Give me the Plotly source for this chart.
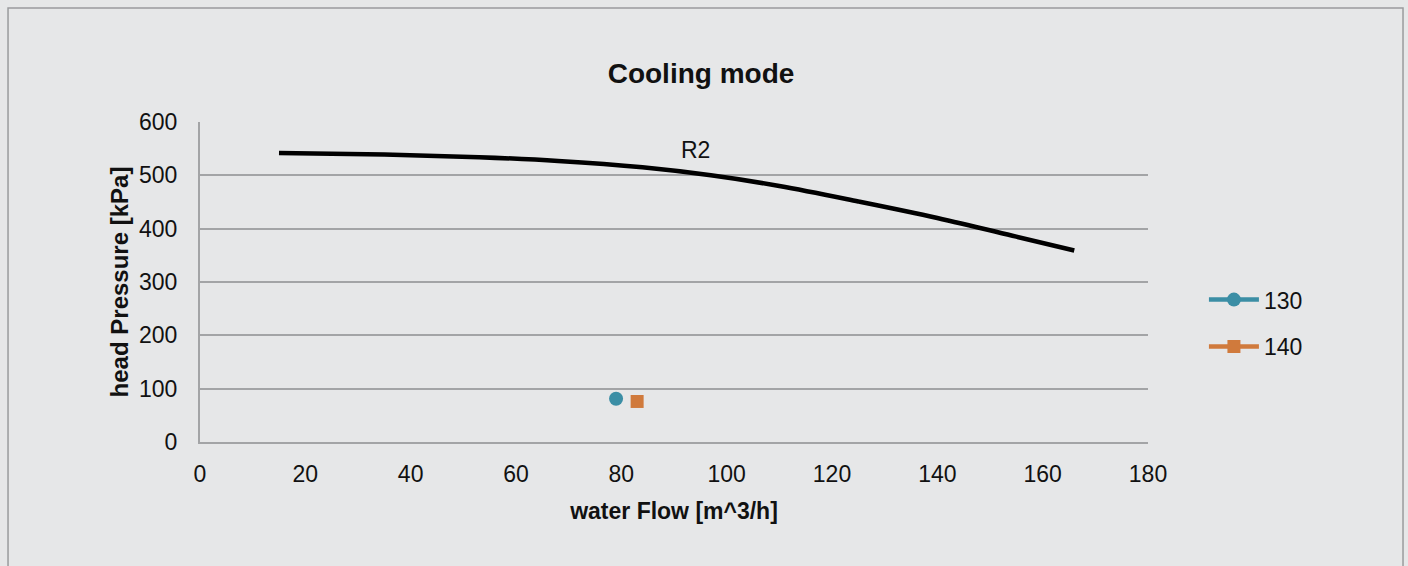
import plotly.graph_objects as go

# Pump curve R2: water flow [m^3/h] vs head pressure [kPa]
r2_flow = [15, 35, 53, 68, 84, 97, 110, 125, 140, 155, 166]
r2_head = [542, 539, 534, 527, 515, 500, 480, 451, 420, 385, 359]

# Operating points
p130_flow = [79]
p130_head = [81]
p140_flow = [83]
p140_head = [76]

x_ticks = [0, 20, 40, 60, 80, 100, 120, 140, 160, 180]
y_ticks = [0, 100, 200, 300, 400, 500, 600]

FONT = "Liberation Sans, Arial, Helvetica, sans-serif"
BG = "#e6e7e8"
GRID = "#a3a4a6"
TXT = "#111111"

fig = go.Figure()

fig.add_trace(go.Scatter(
    x=r2_flow, y=r2_head, mode="lines", name="R2",
    line=dict(color="#000000", width=4.5, shape="spline", smoothing=1.0),
    showlegend=False,
))
fig.add_trace(go.Scatter(
    x=p130_flow, y=p130_head, mode="lines+markers", name="130",
    line=dict(color="#3b8ea5", width=4.5),
    marker=dict(symbol="circle", size=14, color="#3b8ea5"),
    legendgroup="a",
))
fig.add_trace(go.Scatter(
    x=p140_flow, y=p140_head, mode="lines+markers", name="140",
    line=dict(color="#d07a3c", width=4.5),
    marker=dict(symbol="square", size=13, color="#d07a3c"),
    legendgroup="b",
))

fig.add_annotation(x=94, y=548, text="R2", showarrow=False,
                   font=dict(family=FONT, size=23, color=TXT))

# outer frame of the chart area
fig.add_shape(type="rect", xref="paper", yref="paper",
              x0=-0.2025, x1=1.269, y0=-0.6, y1=1.356,
              line=dict(color="#9a9b9d", width=1.5), fillcolor="rgba(0,0,0,0)",
              layer="below")

fig.update_layout(
    width=1408, height=566,
    margin=dict(l=200, r=260, t=122, b=124),
    paper_bgcolor=BG, plot_bgcolor=BG,
    font=dict(family=FONT, size=23, color=TXT),
    title=dict(text="<b>Cooling mode</b>", x=701 / 1408, xanchor="center",
               y=1 - 73 / 566, yanchor="middle",
               font=dict(family=FONT, size=28, color=TXT)),
    legend=dict(x=1.059, y=0.512, xanchor="left", yanchor="top",
                bgcolor="rgba(0,0,0,0)", tracegroupgap=14, itemwidth=50,
                font=dict(family=FONT, size=23, color=TXT)),
    showlegend=True,
)

fig.update_xaxes(
    range=[0, 180], tickvals=x_ticks, showgrid=False, zeroline=False,
    showline=True, linecolor=GRID, linewidth=2,
    ticks="outside", ticklen=10, tickcolor="rgba(0,0,0,0)",
    tickfont=dict(family=FONT, size=23, color=TXT),
    title=dict(text="<b>water Flow [m^3/h]</b>", standoff=17,
               font=dict(family=FONT, size=23, color=TXT)),
)
fig.update_yaxes(
    range=[0, 600], tickvals=y_ticks, showgrid=True, gridcolor=GRID,
    gridwidth=2, zeroline=False,
    showline=True, linecolor=GRID, linewidth=2,
    ticks="outside", ticklen=16, tickcolor="rgba(0,0,0,0)",
    tickfont=dict(family=FONT, size=23, color=TXT),
    title=dict(text="<b>head Pressure [kPa]</b>", standoff=4,
               font=dict(family=FONT, size=24, color=TXT)),
)

fig.write_html("out.html")
